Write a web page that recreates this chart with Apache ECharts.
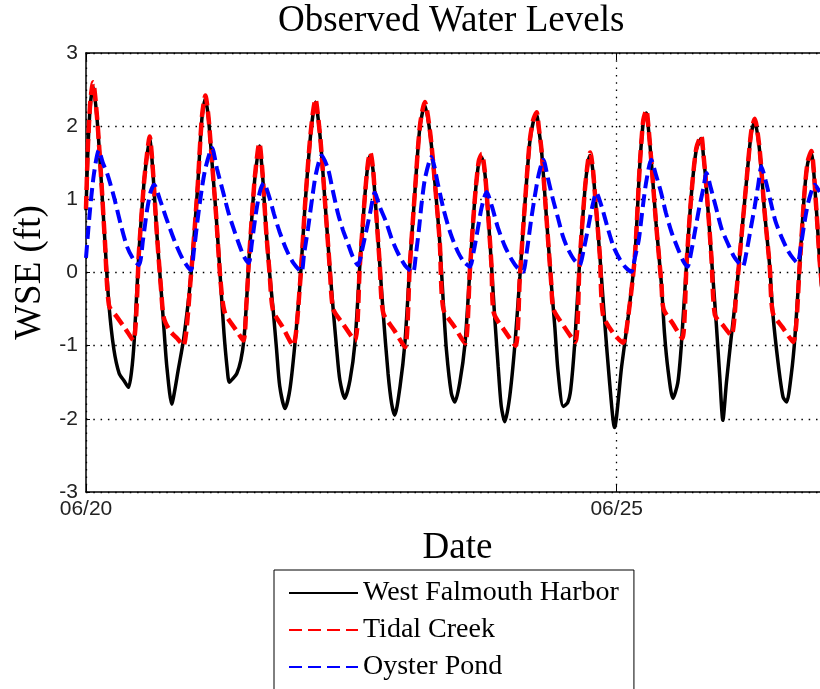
<!DOCTYPE html>
<html>
<head>
<meta charset="utf-8">
<title>Observed Water Levels</title>
<script src="https://cdn.jsdelivr.net/npm/echarts@6.0.0/dist/echarts.min.js"></script>
<style>
  html, body { margin: 0; padding: 0; background: #ffffff; }
  #chart { width: 820px; height: 689px; }
</style>
</head>
<body>
<div id="chart"></div>
<script>
// [hours since 06/20 00:00, WSE in ft]
const harbor = [
  [0,0.85],[0.45,1.7],[1.0,2.3],[1.6,2.55],[2.5,2.1],[3.4,1.3],[4.3,0.4],[5.2,-0.45],[6.3,-1.05],[7.5,-1.38],[8.6,-1.48],[9.6,-1.57],[10.3,-1.35],[10.9,-0.93],[12.0,0.31],[13.1,1.22],[13.8,1.6],[14.4,1.82],
  [15.1,1.4],[16.0,0.55],[17.0,-0.25],[17.6,-0.75],[18.3,-1.3],[19.4,-1.8],[20.1,-1.6],[20.8,-1.35],[22.1,-0.9],[23.7,-0.06],[25.2,1.13],[26.2,2.1],[27.0,2.38],
  [27.7,2.1],[28.5,1.5],[29.4,0.8],[30.4,-0.1],[31.2,-0.83],[31.9,-1.3],[32.4,-1.5],[33.2,-1.45],[34.1,-1.38],[35.0,-1.2],[35.7,-0.92],[36.3,-0.4],[36.8,0.13],[37.5,0.75],[38.2,1.3],[39.2,1.73],
  [39.9,1.35],[40.7,0.6],[41.5,0.0],[42.3,-0.5],[43.1,-1.06],[43.8,-1.55],[45.0,-1.86],[46.1,-1.6],[47.2,-1.0],[48.4,-0.15],[49.5,0.9],[50.6,1.76],[51.3,2.15],[51.9,2.33],
  [52.4,2.15],[53.1,1.75],[54.0,1.0],[55.1,0.08],[55.9,-0.51],[56.7,-1.06],[57.4,-1.47],[58.5,-1.72],[59.7,-1.47],[60.8,-0.97],[61.9,0.08],[63.1,1.08],[63.8,1.5],[64.3,1.6],
  [64.9,1.4],[65.3,1.08],[66.4,0.13],[67.2,-0.56],[68.3,-1.38],[69.1,-1.79],[69.8,-1.95],[71.0,-1.56],[72.1,-0.97],[73.2,0.08],[74.4,1.13],[75.5,1.99],[76.6,2.29],
  [77.8,1.9],[78.9,1.22],[80.0,0.4],[80.8,-0.42],[81.5,-1.06],[82.6,-1.65],[83.4,-1.77],[84.5,-1.51],[85.7,-0.97],[86.8,0.03],[87.9,0.99],[88.8,1.5],[89.5,1.58],
  [90.1,1.4],[90.6,1.08],[91.7,0.08],[92.4,-0.6],[93.2,-1.29],[93.9,-1.83],[94.7,-2.04],[95.8,-1.7],[97.0,-0.97],[98.1,-0.06],[99.2,0.9],[100.3,1.76],[101.1,2.05],[101.9,2.15],
  [102.4,1.95],[103.0,1.67],[104.1,0.76],[105.2,-0.15],[106.0,-0.74],[106.7,-1.33],[107.9,-1.83],[108.9,-1.78],[109.6,-1.6],[110.5,-0.97],[111.6,0.13],[112.8,1.13],[113.5,1.5],[114.0,1.6],
  [114.6,1.4],[115.0,1.13],[116.2,0.22],[117.3,-0.69],[118.4,-1.51],[119.5,-2.12],[121.1,-1.29],[122.6,-0.6],[124.1,0.22],[125.2,1.45],[126.0,2.05],[126.7,2.18],
  [127.2,1.95],[127.8,1.54],[128.9,0.67],[130.1,-0.15],[130.8,-0.83],[131.6,-1.33],[132.7,-1.72],[133.8,-1.51],[134.6,-1.0],[135.8,0.13],[136.9,1.08],[138.0,1.68],[139.1,1.83],
  [139.6,1.6],[140.2,1.22],[141.4,0.22],[142.5,-0.69],[143.3,-1.42],[144.0,-2.02],[144.8,-1.51],[145.9,-0.88],[147.1,-0.24],[148.2,0.49],[149.3,1.22],[150.4,1.9],[151.2,2.06],
  [152.3,1.67],[153.4,0.85],[154.6,0.08],[155.3,-0.56],[156.5,-1.24],[157.6,-1.7],[158.4,-1.77],[159.5,-1.38],[160.3,-0.88],[161.4,0.13],[162.5,1.13],[163.2,1.5],[164.0,1.62],[165.1,0.9],[165.9,0.15],[167.0,-0.7]
];

const creek = [
  [0,0.87],[0.45,1.75],[1.0,2.35],[1.6,2.6],[2.5,2.12],[3.4,1.32],[4.3,0.4],[5.2,-0.45],[6.9,-0.6],[8.8,-0.76],[10.7,-0.93],[12.0,0.31],[13.1,1.22],[13.8,1.62],[14.4,1.86],
  [15.1,1.42],[16.0,0.55],[17.0,-0.25],[17.6,-0.62],[19.0,-0.8],[20.6,-0.9],[22.0,-1.0],[23.7,-0.06],[25.2,1.13],[26.2,2.12],[27.0,2.42],
  [27.7,2.12],[28.5,1.5],[29.4,0.8],[30.4,-0.1],[31.4,-0.55],[34.1,-0.8],[35.6,-0.93],[36.3,-0.4],[36.8,0.13],[37.5,0.75],[38.2,1.32],[39.2,1.77],
  [39.9,1.37],[40.7,0.6],[41.5,0.0],[42.3,-0.52],[44.5,-0.75],[46.8,-1.0],[48.4,-0.15],[49.5,0.9],[50.6,1.78],[51.3,2.18],[51.9,2.37],
  [52.4,2.17],[53.1,1.75],[54.0,1.0],[55.1,0.08],[55.9,-0.5],[58.1,-0.7],[60.8,-0.93],[61.9,0.08],[63.1,1.08],[63.8,1.52],[64.3,1.64],
  [64.9,1.42],[65.3,1.08],[66.4,0.13],[67.2,-0.55],[69.8,-0.8],[72.1,-1.02],[73.2,0.08],[74.4,1.13],[75.5,2.0],[76.6,2.33],
  [77.8,1.92],[78.9,1.22],[80.0,0.4],[80.8,-0.5],[83.4,-0.75],[85.7,-0.97],[86.8,0.03],[87.9,0.99],[88.8,1.52],[89.5,1.62],
  [90.1,1.42],[90.6,1.08],[91.7,0.08],[92.2,-0.55],[94.7,-0.8],[97.1,-1.0],[98.1,-0.06],[99.2,0.9],[100.3,1.78],[101.1,2.08],[101.9,2.19],
  [102.4,1.97],[103.0,1.67],[104.1,0.76],[105.2,-0.15],[105.7,-0.5],[108.0,-0.73],[110.6,-0.95],[111.6,0.13],[112.8,1.13],[113.5,1.52],[114.0,1.64],
  [114.6,1.42],[115.0,1.13],[116.2,0.22],[116.9,-0.58],[119.1,-0.82],[121.4,-0.96],[122.6,-0.6],[124.1,0.22],[125.2,1.45],[126.0,2.08],[126.7,2.22],
  [127.2,1.97],[127.8,1.54],[128.9,0.67],[130.1,-0.15],[130.6,-0.5],[132.7,-0.7],[134.8,-0.9],[135.8,0.13],[136.9,1.08],[138.0,1.7],[139.1,1.87],
  [139.6,1.62],[140.2,1.22],[141.4,0.22],[142.2,-0.58],[144.0,-0.72],[145.9,-0.86],[147.1,-0.24],[148.2,0.49],[149.3,1.22],[150.4,1.92],[151.2,2.1],
  [152.3,1.69],[153.4,0.85],[154.6,0.08],[155.3,-0.55],[157.5,-0.75],[159.9,-0.95],[161.4,0.13],[162.5,1.13],[163.2,1.52],[164.0,1.66],[165.1,0.9],[165.9,0.15],[167.0,-0.55]
];

const pond = [
  [0,0.2],[0.9,0.85],[1.8,1.35],[2.9,1.67],[3.8,1.5],[4.8,1.35],[6.3,1.04],[7.8,0.67],[9.3,0.35],[10.8,0.17],[12.0,0.1],
  [12.9,0.45],[13.8,0.85],[14.6,1.1],[15.4,1.2],[16.7,1.0],[18.1,0.75],[20.1,0.42],[21.9,0.18],[23.7,0.03],
  [24.4,0.3],[25.3,0.75],[26.2,1.15],[27.1,1.45],[28.5,1.7],[29.6,1.42],[31.0,1.1],[32.3,0.8],[34.4,0.42],[35.7,0.22],[36.8,0.13],
  [37.5,0.4],[38.4,0.8],[39.3,1.1],[40.2,1.22],[41.6,1.0],[42.5,0.8],[43.8,0.55],[45.4,0.3],[47.0,0.12],[48.7,0.01],
  [49.3,0.25],[50.2,0.6],[51.1,1.0],[52.0,1.35],[53.3,1.6],[54.7,1.42],[55.8,1.12],[57.0,0.8],[58.1,0.58],[59.2,0.4],[60.3,0.22],[61.5,0.1],
  [62.4,0.3],[63.3,0.55],[64.2,0.8],[65.3,1.09],[66.4,0.9],[67.8,0.7],[69.2,0.45],[70.5,0.27],[72.1,0.1],[73.9,0.0],
  [74.6,0.25],[75.3,0.6],[75.9,0.95],[76.7,1.3],[78.1,1.58],[79.6,1.2],[80.9,0.85],[82.5,0.52],[84.1,0.28],[85.4,0.15],[86.8,0.08],
  [87.7,0.3],[88.6,0.6],[89.5,0.9],[90.6,1.1],[91.8,0.9],[93.1,0.62],[94.7,0.36],[96.3,0.17],[97.6,0.06],[98.8,0.01],
  [99.7,0.3],[100.6,0.7],[101.5,1.05],[102.4,1.35],[103.4,1.54],[104.4,1.3],[105.5,1.02],[106.7,0.75],[107.8,0.5],[108.9,0.33],[110.3,0.18],[111.6,0.1],
  [112.5,0.3],[113.5,0.6],[114.4,0.88],[115.4,1.09],[116.6,0.9],[118.0,0.6],[119.3,0.35],[120.7,0.18],[122.0,0.07],[123.3,0.01],
  [124.1,0.2],[125.0,0.45],[125.9,0.9],[126.7,1.25],[127.8,1.54],[128.8,1.35],[130.0,1.1],[131.1,0.82],[132.4,0.55],[134.0,0.3],[135.1,0.15],[136.0,0.08],
  [136.9,0.3],[137.8,0.6],[138.7,0.9],[139.6,1.15],[140.3,1.36],[141.3,1.15],[142.4,0.9],[143.7,0.6],[145.1,0.4],[146.4,0.23],[147.6,0.13],[148.5,0.08],
  [149.4,0.3],[150.3,0.6],[151.2,0.9],[152.0,1.2],[152.7,1.45],[153.7,1.25],[154.6,1.02],[155.9,0.7],[157.3,0.48],[158.7,0.3],[159.8,0.2],[160.9,0.13],
  [161.6,0.35],[162.5,0.7],[163.4,0.98],[164.8,1.2],[165.9,1.1]
];

const dateTicks = { 0: "06/20", 120: "06/25" };
const seriesNames = ["West Falmouth Harbor", "Tidal Creek", "Oyster Pond"];

const serif = "Liberation Serif";
const sans = "Liberation Sans";
const dotted = { color: "#000", width: 1.3, type: [1.5, 5.8] };

const chart = echarts.init(document.getElementById("chart"));

const option = {
  animation: false,
  backgroundColor: "#ffffff",
  title: {
    text: "Observed Water Levels",
    left: 278,
    top: 3,
    padding: 0,
    textStyle: { fontFamily: serif, fontSize: 37, fontWeight: "normal", color: "#000" }
  },
  legend: {
    data: seriesNames,
    orient: "vertical",
    left: 274,
    top: 570,
    height: 200,
    padding: [9, 15, 14, 14],
    itemGap: 9,
    itemWidth: 69,
    itemHeight: 14,
    borderColor: "#000",
    borderWidth: 1,
    backgroundColor: "#fff",
    selectedMode: false,
    itemStyle: { opacity: 0 },
    textStyle: { fontFamily: serif, fontSize: 28, color: "#000", lineHeight: 28 }
  },
  // the plot box runs past the right edge of the picture (7 days wide)
  grid: { left: 86, top: 53, width: 743, height: 439, containLabel: false, outerBoundsMode: "none" },
  xAxis: [
    {
      type: "value",
      min: 0,
      max: 168,
      interval: 120,
      position: "bottom",
      name: "Date",
      nameLocation: "middle",
      nameGap: 38,
      nameTextStyle: { fontFamily: serif, fontSize: 37, color: "#000" },
      axisLine: { show: true, onZero: false, lineStyle: { color: "#000", width: 1.5 } },
      axisTick: { show: true, inside: true, length: 7, lineStyle: { color: "#000" } },
      axisLabel: {
        fontFamily: sans,
        fontSize: 21,
        color: "#222",
        margin: 7,
        showMaxLabel: false,
        formatter: v => dateTicks[v] || ""
      },
      splitLine: { show: true, lineStyle: dotted }
    },
    {
      type: "value",
      min: 0,
      max: 168,
      interval: 120,
      position: "top",
      axisLine: { show: true, onZero: false, lineStyle: { color: "#000", width: 1.5 } },
      axisTick: { show: true, inside: true, length: 7, lineStyle: { color: "#000" } },
      axisLabel: { show: false },
      splitLine: { show: false }
    }
  ],
  yAxis: {
    type: "value",
    min: -3,
    max: 3,
    interval: 1,
    name: "WSE (ft)",
    nameLocation: "middle",
    nameGap: 36,
    nameTextStyle: { fontFamily: serif, fontSize: 37, color: "#000" },
    axisLine: { show: true, lineStyle: { color: "#000", width: 1.5 } },
    axisTick: { show: true, inside: true, length: 4, lineStyle: { color: "#000" } },
    axisLabel: { fontFamily: sans, fontSize: 21, color: "#222", margin: 8 },
    splitLine: { show: true, lineStyle: dotted }
  },
  series: [
    {
      name: seriesNames[0],
      type: "line",
      data: harbor,
      symbol: "none",
      smooth: 0.25,
      lineStyle: { color: "#000", width: 3.5 },
      itemStyle: { color: "#000" }
    },
    {
      name: seriesNames[1],
      type: "line",
      data: creek,
      symbol: "none",
      smooth: 0.25,
      lineStyle: { color: "#ff0000", width: 4.5, type: [13, 6] },
      itemStyle: { color: "#ff0000" }
    },
    {
      name: seriesNames[2],
      type: "line",
      data: pond,
      symbol: "none",
      smooth: 0.25,
      lineStyle: { color: "#0000ff", width: 4, type: [13, 6] },
      itemStyle: { color: "#0000ff" }
    }
  ]
};

chart.setOption(option);
</script>
</body>
</html>
